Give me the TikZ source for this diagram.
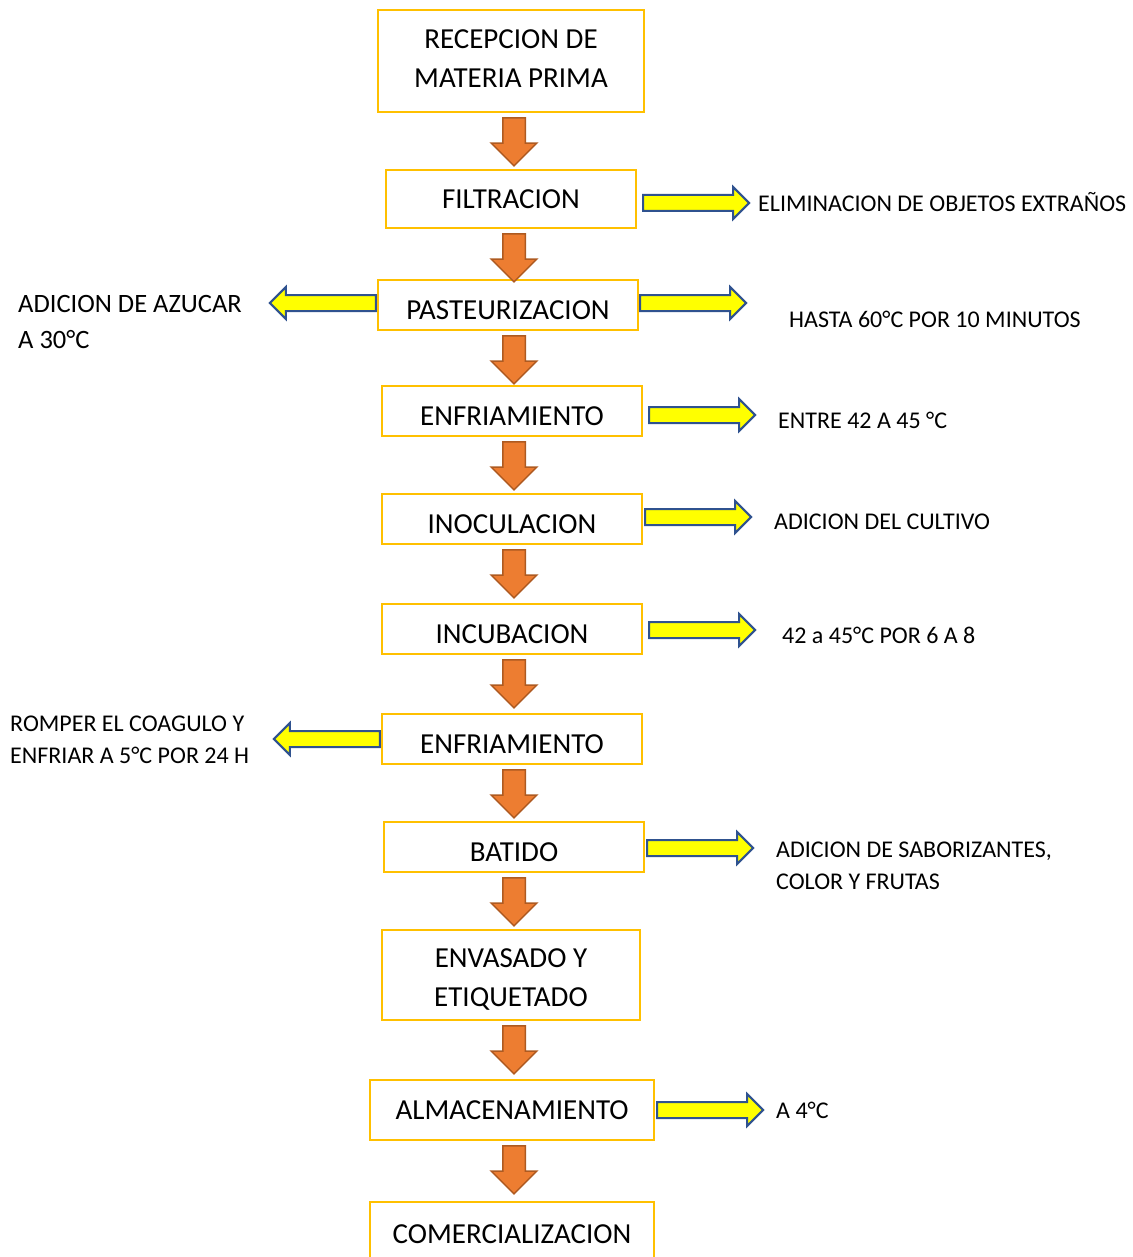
\documentclass[tikz,border=0pt]{standalone}
\usepackage{fontspec}
\setmainfont{Carlito}
\usetikzlibrary{shapes.arrows}
\definecolor{borde}{HTML}{FFC000}
\definecolor{naranja}{HTML}{ED7D31}
\definecolor{naranjaosc}{HTML}{AE5A21}
\definecolor{amarillo}{HTML}{FFFF00}
\definecolor{azulosc}{HTML}{2F528F}

\begin{document}
\begin{tikzpicture}[x=1pt,y=-1pt,
  etapa/.style={draw=borde,line width=2.2pt,fill=white,minimum width=260pt,minimum height=50pt,
    align=center,inner sep=0pt,font=\fontsize{29}{39}\selectfont},
  bajo/.style={text height=28.7pt,text depth=0pt},
  flechaabajo/.style={single arrow,shape border rotate=270,fill=naranja,draw=naranjaosc,
    line width=1.5pt,minimum height=48pt,minimum width=44pt,single arrow head extend=11.5pt,
    inner xsep=10.5pt,inner ysep=0pt},
  flechalado/.style={single arrow,fill=amarillo,draw=azulosc,line width=2pt,
    minimum height=106pt,minimum width=30pt,single arrow head extend=8pt,
    inner xsep=0pt,inner ysep=7pt},
  nota/.style={anchor=base west,align=left,inner sep=0pt,font=\fontsize{24}{32}\selectfont}]
\path[use as bounding box] (0,0) rectangle (1132,1257);
\clip (0,0) rectangle (1132,1257);

% etapas del proceso
\node[etapa,minimum width=266pt,minimum height=102pt,text height=54pt] (recepcion) at (511,61) {RECEPCION DE\\MATERIA PRIMA};
\node[etapa,minimum width=250pt,minimum height=58pt] (filtracion) at (511,199) {FILTRACION};
\node[etapa,bajo] (pasteurizacion) at (508,305) {PASTEURIZACION};
\node[etapa,bajo] (enfriamiento) at (512,411) {ENFRIAMIENTO};
\node[etapa,bajo] (inoculacion) at (512,519) {INOCULACION};
\node[etapa,bajo] (incubacion) at (512,629) {INCUBACION};
\node[etapa,bajo] (enfriamientob) at (512,739) {ENFRIAMIENTO};
\node[etapa,bajo] (batido) at (514,847) {BATIDO};
\node[etapa,minimum width=258pt,minimum height=90pt,text height=67pt] (envasado) at (511,975) {ENVASADO Y\\ETIQUETADO};
\node[etapa,minimum width=284pt,minimum height=60pt] (almacenamiento) at (512,1110) {ALMACENAMIENTO};
\node[etapa,minimum width=284pt,minimum height=64pt] (comercializacion) at (512,1234) {COMERCIALIZACION};

% flechas entre etapas
\foreach \a in {recepcion,filtracion,pasteurizacion,enfriamiento,inoculacion,
  incubacion,enfriamientob,batido,envasado,almacenamiento}
{
  \node[flechaabajo,anchor=tail,yshift=-4pt] (f-\a) at (514,0 |- \a.south) {};
}

% flechas laterales
\node[flechalado,anchor=tail] (s-filtracion) at ([xshift=5pt,yshift=-4pt]filtracion.east) {};
\node[flechalado,anchor=tail] (s-pasteurizacion) at ([xshift=0pt,yshift=2pt]pasteurizacion.east) {};
\node[flechalado,anchor=tail,shape border rotate=180] (s-azucar) at ([xshift=0pt,yshift=2pt]pasteurizacion.west) {};
\node[flechalado,anchor=tail] (s-enfriamiento) at ([xshift=5pt,yshift=-4pt]enfriamiento.east) {};
\node[flechalado,anchor=tail] (s-inoculacion) at ([xshift=1pt,yshift=2pt]inoculacion.east) {};
\node[flechalado,anchor=tail] (s-incubacion) at ([xshift=5pt,yshift=-1pt]incubacion.east) {};
\node[flechalado,anchor=tail,shape border rotate=180] (s-coagulo) at (enfriamientob.west) {};
\node[flechalado,anchor=tail] (s-batido) at ([xshift=1pt,yshift=-1pt]batido.east) {};
\node[flechalado,anchor=tail] (s-almacenamiento) at ([xshift=1pt]almacenamiento.east) {};

% notas
\node[nota] (n-filtracion) at (758,212) {ELIMINACION DE OBJETOS EXTRAÑOS};
\node[nota,font=\fontsize{26.5}{36}\selectfont] (n-azucar) at (18,348) {ADICION DE AZUCAR\\A 30°C};
\node[nota] (n-pasteurizacion) at (789,327) {HASTA 60°C POR 10 MINUTOS};
\node[nota] (n-enfriamiento) at (778,428) {ENTRE 42 A 45 °C};
\node[nota] (n-inoculacion) at (774,529) {ADICION DEL CULTIVO};
\node[nota] (n-incubacion) at (782,643) {42 a 45°C POR 6 A 8};
\node[nota] (n-coagulo) at (10,763) {ROMPER EL COAGULO Y\\ENFRIAR A 5°C POR 24 H};
\node[nota] (n-batido) at (776,889) {ADICION DE SABORIZANTES,\\COLOR Y FRUTAS};
\node[nota] (n-almacenamiento) at (776,1118) {A 4°C};
\end{tikzpicture}
\end{document}
